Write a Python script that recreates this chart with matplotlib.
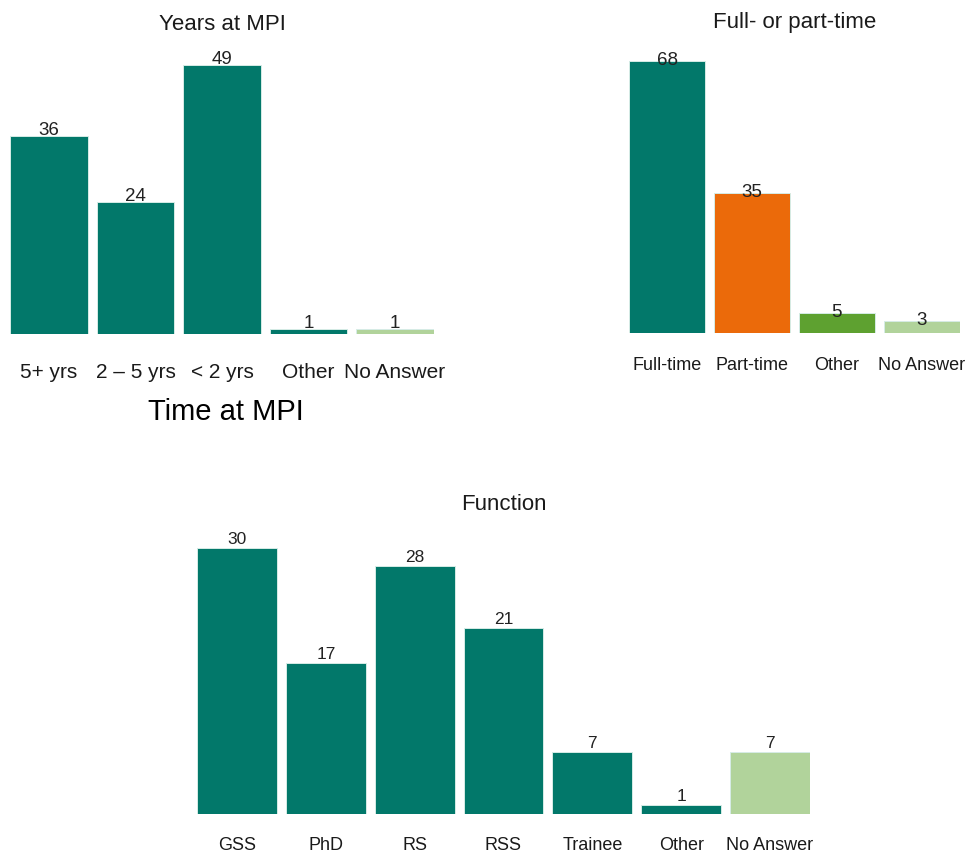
import matplotlib
matplotlib.use("Agg")
import matplotlib.pyplot as plt

plt.rcParams['font.family'] = ['Liberation Sans', 'DejaVu Sans']

TEAL = "#02786A"
ORANGE = "#EB6A0A"
GREEN = "#5EA130"
LIGHT = "#B1D39B"

# Years at MPI
years_cats = ["5+ yrs", "2 \u2013 5 yrs", "< 2 yrs", "Other", "No Answer"]
years_vals = [36, 24, 49, 1, 1]
years_cols = [TEAL, TEAL, TEAL, TEAL, LIGHT]

# Full- or part-time
ft_cats = ["Full-time", "Part-time", "Other", "No Answer"]
ft_vals = [68, 35, 5, 3]
ft_cols = [TEAL, ORANGE, GREEN, LIGHT]

# Function
fn_cats = ["GSS", "PhD", "RS", "RSS", "Trainee", "Other", "No Answer"]
fn_vals = [30, 17, 28, 21, 7, 1, 7]
fn_cols = [TEAL, TEAL, TEAL, TEAL, TEAL, TEAL, LIGHT]

W, H = 968, 854
fig = plt.figure(figsize=(W / 100, H / 100), dpi=100)


def px_axes(left, right, top, bottom):
    return fig.add_axes([left / W, 1 - bottom / H, (right - left) / W, (bottom - top) / H])


def bar_panel(ax, cats, vals, cols, ytop, title, title_y, tick_size, lab_size, lab_pad, tick_pad):
    x = list(range(len(cats)))
    ax.bar(x, vals, width=0.9, color=cols, edgecolor="#D6ECE6", linewidth=0.7)
    for xi, v in zip(x, vals):
        ax.annotate(str(v), (xi, v), xytext=(0, lab_pad), textcoords="offset points",
                    ha="center", va="bottom", fontsize=lab_size, color="#222222")
    ax.set_xlim(-0.45, len(cats) - 0.55)
    ax.set_ylim(0, ytop)
    ax.set_xticks(x)
    ax.set_xticklabels(cats, fontsize=tick_size, color="#1a1a1a")
    ax.tick_params(axis="x", length=0, pad=tick_pad)
    ax.set_yticks([])
    for s in ax.spines.values():
        s.set_visible(False)
    ax.set_facecolor("none")
    ax.set_title(title, fontsize=16, color="#1a1a1a", pad=0, y=title_y)


# Panel 1
ax1 = px_axes(10, 434, 50, 335)
bar_panel(ax1, years_cats, years_vals, years_cols, 285 / 5.49,
          "Years at MPI", 1.0 + 20 / 285, 15, 13.5, -1.5, 20.5)
ax1.set_xlabel("Time at MPI", fontsize=21, color="#000000", labelpad=10)
ax1.xaxis.set_label_coords((226 - 10) / 424, -63 / 285)

# Panel 2
ax2 = px_axes(629, 960, 50, 334)
bar_panel(ax2, ft_cats, ft_vals, ft_cols, 284 / 4.0,
          "Full- or part-time", 1.0 + 22 / 284, 13, 13.5, -5, 16.5)

# Panel 3
ax3 = px_axes(197, 810, 530, 815)
bar_panel(ax3, fn_cats, fn_vals, fn_cols, 285 / 8.87,
          "Function", 1.0 + 20 / 285, 13, 12.5, 1.5, 15.5)

fig.savefig("out.png", dpi=100, facecolor="white")
